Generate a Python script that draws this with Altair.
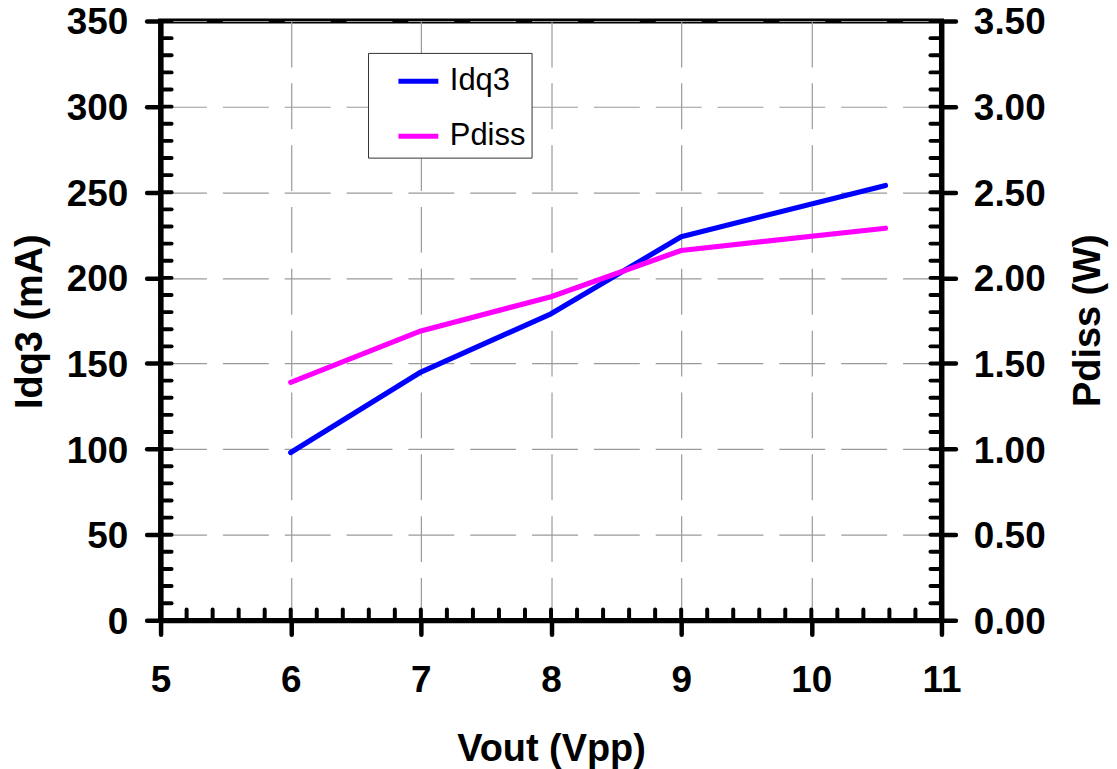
import altair as alt
import pandas as pd

# ---- data ----
vout = [6, 7, 8, 9, 10.57]
idq3 = [98, 145, 179, 224, 254]
pdiss = [1.39, 1.69, 1.89, 2.16, 2.29]

x_major = [5, 6, 7, 8, 9, 10, 11]
x_minor = [round(5 + 0.2 * i, 1) for i in range(31)]
left_major = [0, 50, 100, 150, 200, 250, 300, 350]
left_minor = list(range(0, 351, 10))
right_major = [0, 0.5, 1.0, 1.5, 2.0, 2.5, 3.0, 3.5]
right_minor = [round(0.1 * i, 1) for i in range(36)]

W, H = 783, 601
FONT = "Liberation Sans"
INNER = 11

df_i = pd.DataFrame({"Vout": vout, "value": idq3, "series": "Idq3"})
df_p = pd.DataFrame({"Vout": vout, "value": pdiss, "series": "Pdiss"})

x_scale = alt.Scale(domain=[5, 11], nice=False, zero=False)
yl_scale = alt.Scale(domain=[0, 350], nice=False)
yr_scale = alt.Scale(domain=[0, 3.5], nice=False)

common_axis = dict(
    tickSize=14, tickWidth=4.5, tickCap="round", tickColor="black",
    domainColor="black", domainWidth=5,
    labelFont=FONT, labelFontSize=37, labelFontWeight="bold", labelColor="black",
    titleFont=FONT, titleFontSize=38, titleFontWeight="bold", titleColor="black",
    labelOverlap=False, labelFlush=False,
)

x_axis = alt.Axis(
    values=x_major, title="Vout (Vpp)", grid=True, gridDash=[46, 16],
    gridColor="#9a9a9a", gridWidth=1.2,
    labelPadding=57, labelBaseline="alphabetic",
    titleX=W / 2, titleY=141, titleBaseline="alphabetic", titleAlign="center",
    **common_axis,
)
yl_axis = alt.Axis(
    values=left_major, title="Idq3 (mA)", orient="left", grid=True, gridDash=[46, 16],
    gridColor="#9a9a9a", gridWidth=1.2,
    labelPadding=19, labelBaseline="middle", labelOffset=2,
    titleX=-130, titleY=301, titleAngle=270, titleBaseline="middle", titleAlign="center",
    **common_axis,
)
yr_axis = alt.Axis(
    values=right_major, title="Pdiss (W)", orient="right", grid=False, format=".2f",
    labelPadding=18, labelBaseline="middle", labelOffset=2,
    titleX=147, titleY=300, titleAngle=270, titleBaseline="middle", titleAlign="center",
    **common_axis,
)

color = alt.Color(
    "series:N",
    scale=alt.Scale(domain=["Idq3", "Pdiss"], range=["#0000FF", "#FF00FF"]),
    legend=alt.Legend(
        title=None, orient="none", legendX=208, legendY=32, direction="vertical",
        symbolType="stroke", symbolSize=1600, symbolStrokeWidth=5,
        labelFont=FONT, labelFontSize=31, labelColor="black",
        padding=6, symbolOffset=22, labelOffset=9, rowPadding=17,
        strokeColor="#333333", fillColor="white",
    ),
)

idq_line = alt.Chart(df_i).mark_line(strokeWidth=5.2, strokeCap="round", strokeJoin="round").encode(
    x=alt.X("Vout:Q", scale=x_scale, axis=x_axis),
    y=alt.Y("value:Q", scale=yl_scale, axis=yl_axis),
    color=color,
)

left_ticks = alt.Chart(pd.DataFrame({"v": left_minor})).mark_rule(
    color="black", strokeWidth=4, strokeCap="round"
).encode(
    y=alt.Y("v:Q", scale=yl_scale, axis=yl_axis),
    x=alt.value(0), x2=alt.value(INNER),
)

bottom_ticks = alt.Chart(pd.DataFrame({"v": x_minor})).mark_rule(
    color="black", strokeWidth=4, strokeCap="round"
).encode(
    x=alt.X("v:Q", scale=x_scale, axis=x_axis),
    y=alt.value(H - INNER), y2=alt.value(H),
)

pd_line = alt.Chart(df_p).mark_line(strokeWidth=5.2, strokeCap="round", strokeJoin="round").encode(
    x=alt.X("Vout:Q", scale=x_scale, axis=x_axis),
    y=alt.Y("value:Q", scale=yr_scale, axis=yr_axis),
    color=color,
)

right_ticks = alt.Chart(pd.DataFrame({"v": right_minor})).mark_rule(
    color="black", strokeWidth=4, strokeCap="round"
).encode(
    y=alt.Y("v:Q", scale=yr_scale, axis=yr_axis),
    x=alt.value(W - INNER), x2=alt.value(W),
)

left_layer = alt.layer(idq_line, left_ticks, bottom_ticks)
right_layer = alt.layer(pd_line, right_ticks)

chart = alt.layer(left_layer, right_layer).resolve_scale(y="independent").properties(
    width=W, height=H,
    autosize=alt.AutoSizeParams(type="none"),
    padding={"left": 153, "top": 12, "right": 168, "bottom": 148},
    background="white",
).configure_view(stroke="black", strokeWidth=5)

chart.save("out.html", embed_options={"renderer": "svg", "actions": False})
